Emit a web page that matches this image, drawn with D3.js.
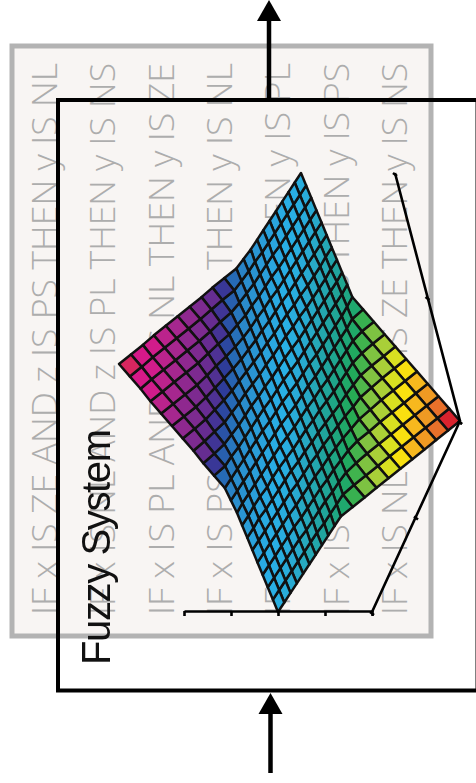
<!DOCTYPE html>
<html>
<head>
<meta charset="utf-8">
<script src="https://cdn.jsdelivr.net/npm/d3@7"></script>
<style>
html, body { margin: 0; padding: 0; background: #fff; }
svg { display: block; filter: blur(0.35px); }
.rule { font-family: "Open Sans", sans-serif; font-weight: 300; font-size: 34px; fill: #adadad; }
.title { font-family: "Liberation Sans", sans-serif; font-size: 40px; fill: #111; }
</style>
</head>
<body>
<script>
const width = 476, height = 783;

const rules = [
    "IF x IS ZE AND z IS PS THEN y IS NL",
    "IF x IS NL AND z IS PL THEN y IS NS",
    "IF x IS PL AND z IS NL THEN y IS ZE",
    "IF x IS PS AND z IS PL THEN y IS NL",
    "IF x IS ZE AND z IS ZE THEN y IS PL",
    "IF x IS NS AND z IS NS THEN y IS PS",
    "IF x IS NL AND z IS ZE THEN y IS NS"
];
const ruleSlots = [0, 1, 2, 3, 4, 5, 6];

const xTicks = [-1, 0, 1];
const yTicks = [-1, 0, 1];
const zTicks = [-1, -0.5, 0, 0.5, 1];

// grid positions of the surface, 21 by 21
const xGrid = [-1, -0.9, -0.8, -0.7, -0.6, -0.5, -0.4, -0.3, -0.2, -0.1, 0, 0.1, 0.2, 0.3, 0.4, 0.5, 0.6, 0.7, 0.8, 0.9, 1];
const yGrid = [-1, -0.9, -0.8, -0.7, -0.6, -0.5, -0.4, -0.3, -0.2, -0.1, 0, 0.1, 0.2, 0.3, 0.4, 0.5, 0.6, 0.7, 0.8, 0.9, 1];

// surface heights, rows follow xGrid, columns yGrid
const zRows = [
    [1.00, .92, .84, .76, .68, .60, .52, .44, .36, .28, .20, .18, .16, .14, .12, .10, .08, .06, .04, .02, .00],
    [.92, .84, .76, .68, .60, .52, .44, .36, .28, .21, .19, .17, .15, .12, .10, .08, .06, .04, .02, .00, -.02],
    [.84, .76, .68, .60, .52, .44, .36, .29, .23, .20, .18, .15, .13, .11, .09, .06, .04, .02, .00, -.02, -.04],
    [.76, .68, .60, .52, .44, .37, .29, .24, .21, .18, .16, .13, .11, .09, .07, .04, .02, .00, -.02, -.04, -.06],
    [.68, .60, .52, .44, .37, .30, .26, .22, .19, .16, .14, .11, .09, .07, .05, .02, .00, -.02, -.04, -.06, -.08],
    [.60, .52, .44, .37, .30, .27, .23, .20, .17, .14, .12, .09, .07, .05, .02, .00, -.02, -.04, -.06, -.08, -.10],
    [.52, .44, .36, .29, .26, .23, .21, .18, .15, .12, .10, .07, .05, .02, .00, -.02, -.04, -.06, -.09, -.10, -.12],
    [.44, .36, .29, .24, .22, .20, .18, .15, .12, .10, .07, .05, .03, .00, -.03, -.05, -.06, -.09, -.11, -.12, -.14],
    [.36, .28, .23, .21, .19, .17, .15, .12, .10, .07, .05, .03, .00, -.03, -.05, -.07, -.09, -.11, -.13, -.15, -.16],
    [.28, .21, .20, .18, .16, .14, .12, .10, .07, .05, .03, .00, -.03, -.05, -.07, -.09, -.11, -.13, -.15, -.17, -.19],
    [.20, .19, .18, .16, .14, .12, .10, .07, .05, .03, .00, -.03, -.05, -.07, -.10, -.12, -.14, -.16, -.18, -.20, -.22],
    [.18, .17, .15, .13, .11, .09, .07, .05, .03, .00, -.03, -.05, -.07, -.10, -.12, -.14, -.16, -.18, -.21, -.23, -.30],
    [.16, .15, .13, .11, .09, .07, .05, .03, .00, -.03, -.05, -.07, -.10, -.12, -.15, -.17, -.19, -.22, -.25, -.31, -.38],
    [.14, .12, .11, .09, .07, .05, .02, .00, -.03, -.05, -.07, -.10, -.12, -.15, -.18, -.20, -.23, -.26, -.32, -.38, -.45],
    [.12, .10, .09, .07, .05, .02, .00, -.03, -.05, -.07, -.10, -.12, -.15, -.18, -.21, -.24, -.28, -.33, -.38, -.45, -.53],
    [.10, .08, .06, .04, .02, .00, -.02, -.05, -.07, -.09, -.12, -.14, -.17, -.20, -.24, -.29, -.34, -.39, -.45, -.53, -.61],
    [.08, .06, .04, .02, .00, -.02, -.04, -.06, -.09, -.11, -.14, -.16, -.19, -.23, -.28, -.34, -.39, -.45, -.53, -.61, -.69],
    [.06, .04, .02, .00, -.02, -.04, -.06, -.09, -.11, -.13, -.16, -.18, -.22, -.26, -.33, -.39, -.45, -.53, -.61, -.69, -.77],
    [.04, .02, .00, -.02, -.04, -.06, -.09, -.11, -.13, -.15, -.18, -.21, -.25, -.32, -.38, -.45, -.53, -.61, -.69, -.77, -.84],
    [.02, .00, -.02, -.04, -.06, -.08, -.10, -.12, -.15, -.17, -.20, -.23, -.31, -.38, -.45, -.53, -.61, -.69, -.77, -.84, -.92],
    [.00, -.02, -.04, -.06, -.08, -.10, -.12, -.14, -.16, -.19, -.22, -.30, -.38, -.45, -.53, -.61, -.69, -.77, -.84, -.92, -1.00]
];

const colorStops = [-.92, -.84, -.76, -.68, -.60, -.52, -.44, -.36, -.29, -.24, -.18, -.10, -.03,
    .03, .08, .14, .20, .26, .32, .38, .44, .52, .60, .68, .76, .84, .92];
const colorValues = ["#d7265f", "#d6198a", "#d01c8b", "#b8248c", "#a3278f", "#8c288f", "#7a2b90", "#5f2d91", "#2e3a98", "#2668b4", "#2a8ccc", "#2aa2dc", "#29b0e6",
    "#29abd8", "#27a9c0", "#20a5a0", "#1ea67a", "#22ab55", "#5ebb47", "#8cc63f", "#a9cf38", "#d9e021", "#f9e010", "#f7b81e", "#ef9a23", "#e8702a", "#d9232e"];

// scales: x and y lie on the floor, z pushes sideways on the page
const xPageX = d3.scaleLinear().domain([-1, 1]).range([0, -88]);
const xPageY = d3.scaleLinear().domain([-1, 1]).range([0, 191]);
const yPageX = d3.scaleLinear().domain([-1, 1]).range([0, -65]);
const yPageY = d3.scaleLinear().domain([-1, 1]).range([0, -248]);
const zScale = d3.scaleLinear().domain([-1, 1]).range([184, 372]);
const color = d3.scaleLinear().domain(colorStops).range(colorValues).clamp(true);

const cornerX = 460, cornerY = 421;

function project(x, y, z) {
    return [
        cornerX + xPageX(x) + yPageX(y) + zScale(z) - zScale(1),
        cornerY + xPageY(x) + yPageY(y)
    ];
}

const svg = d3.select("body").append("svg")
    .attr("width", width)
    .attr("height", height);

// Rule panel
svg.append("rect")
    .attr("x", 12).attr("y", 46)
    .attr("width", 419).attr("height", 590)
    .attr("fill", "#f8f5f3")
    .attr("stroke", "#b3b3b3")
    .attr("stroke-width", 5);

const ruleX = d3.scaleLinear().domain([0, 6]).range([57, 407]);

svg.append("g").selectAll("text")
    .data(rules)
    .enter().append("text")
    .attr("class", "rule")
    .attr("transform", (d, i) => "translate(" + ruleX(ruleSlots[i]) + ",615) rotate(-90)")
    .attr("textLength", 552)
    .attr("lengthAdjust", "spacingAndGlyphs")
    .text(d => d);

// Fuzzy system box
svg.append("rect")
    .attr("x", 58).attr("y", 100)
    .attr("width", 419.5).attr("height", 590.5)
    .attr("fill", "none")
    .attr("stroke", "#000")
    .attr("stroke-width", 4);

// Arrows
const arrows = [
    { x: 269, from: 100, to: 20, tip: 0, base: 21, half: 12 },
    { x: 270.5, from: 773, to: 713, tip: 693, base: 714, half: 12 }
];
arrows.forEach(a => {
    svg.append("line")
        .attr("x1", a.x).attr("x2", a.x)
        .attr("y1", a.from).attr("y2", a.to)
        .attr("stroke", "#000")
        .attr("stroke-width", 4.5);
    svg.append("path")
        .attr("d", d3.line()([[a.x, a.tip], [a.x - a.half, a.base], [a.x + a.half, a.base]]) + "Z")
        .attr("fill", "#000");
});

// Surface cells
const cells = [];
for (let i = 0; i < xGrid.length - 1; i++) {
    for (let j = 0; j < yGrid.length - 1; j++) {
        const corners = [[i, j], [i + 1, j], [i + 1, j + 1], [i, j + 1]];
        cells.push({
            points: corners.map(c => project(xGrid[c[0]], yGrid[c[1]], zRows[c[0]][c[1]])),
            z: d3.mean(corners, c => zRows[c[0]][c[1]])
        });
    }
}

svg.append("g").selectAll("path")
    .data(cells)
    .enter().append("path")
    .attr("d", d => d3.line()(d.points) + "Z")
    .attr("fill", d => color(d.z))
    .attr("stroke", "#111")
    .attr("stroke-width", 2.5)
    .attr("stroke-linejoin", "round");

// Axes
const zAxis = d3.axisBottom(zScale)
    .tickValues(zTicks)
    .tickSize(5)
    .tickSizeOuter(0)
    .tickFormat("");

const zAxisG = svg.append("g")
    .attr("transform", "translate(0,611)")
    .call(zAxis);
zAxisG.select(".domain").attr("stroke", "#000").attr("stroke-width", 2.6);
zAxisG.selectAll(".tick line").attr("stroke", "#000").attr("stroke-width", 2.6);

svg.append("path")
    .attr("d", d3.line()([project(1, -1, 1), project(-1, -1, 1), project(-1, 1, 1)]))
    .attr("fill", "none")
    .attr("stroke", "#000")
    .attr("stroke-width", 2.6);

svg.append("g").selectAll("line")
    .data(xTicks.map(t => project(t, -1, 1)).concat(yTicks.map(t => project(-1, t, 1))))
    .enter().append("line")
    .attr("x1", d => d[0] - 2).attr("x2", d => d[0] + 2)
    .attr("y1", d => d[1]).attr("y2", d => d[1] + 3)
    .attr("stroke", "#000")
    .attr("stroke-width", 2.6);

// Label
svg.append("text")
    .attr("class", "title")
    .attr("transform", "translate(110,665) rotate(-90)")
    .attr("textLength", 236)
    .text("Fuzzy System");
</script>
</body>
</html>
